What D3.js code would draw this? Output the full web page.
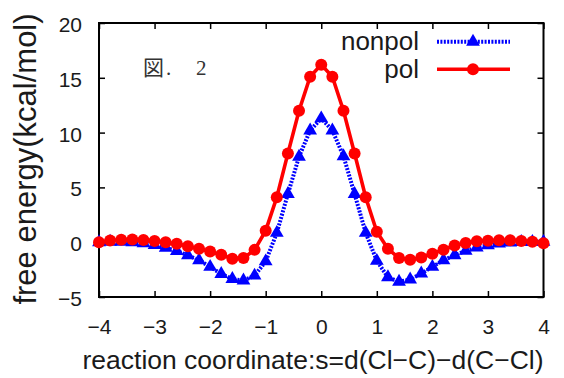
<!DOCTYPE html>
<html>
<head>
<meta charset="utf-8">
<script src="https://cdn.jsdelivr.net/npm/d3@7"></script>
<style>
  body { margin: 0; background: #fff; }
  svg { display: block; }
</style>
</head>
<body>
<svg id="chart"></svg>
<script>
// reaction coordinate s, step 0.2
const sValues = [
  -4.0, -3.8, -3.6, -3.4, -3.2, -3.0, -2.8, -2.6, -2.4, -2.2, -2.0,
  -1.8, -1.6, -1.4, -1.2, -1.0, -0.8, -0.6, -0.4, -0.2, 0.0,
  0.2, 0.4, 0.6, 0.8, 1.0, 1.2, 1.4, 1.6, 1.8, 2.0,
  2.2, 2.4, 2.6, 2.8, 3.0, 3.2, 3.4, 3.6, 3.8, 4.0
]

const nonpolEnergy = [
  0.0, 0.05, 0.05, 0.0, -0.1, -0.25, -0.5, -0.8, -1.2, -1.65, -2.25,
  -2.9, -3.35, -3.5, -3.05, -1.75, 0.85, 4.4, 7.8, 10.2, 11.3,
  10.2, 7.85, 4.4, 0.85, -1.7, -3.2, -3.6, -3.4, -2.86, -2.25,
  -1.64, -1.19, -0.79, -0.49, -0.27, -0.12, -0.03, 0.02, 0.03, 0.03
]

const polEnergy = [
  0.0, 0.15, 0.22, 0.25, 0.2, 0.12, 0.0, -0.15, -0.38, -0.6, -0.85,
  -1.15, -1.5, -1.45, -0.7, 1.05, 4.1, 8.1, 12.0, 15.1, 16.2,
  15.1, 12.0, 8.1, 4.1, 0.95, -0.6, -1.45, -1.6, -1.4, -1.05,
  -0.68, -0.3, -0.08, 0.08, 0.14, 0.18, 0.18, 0.12, 0.04, -0.1
]

const seriesNames = ['nonpol', 'pol']
const xTicks = [-4, -3, -2, -1, 0, 1, 2, 3, 4]
const yTicks = [-5, 0, 5, 10, 15, 20]

const xLabel = 'reaction coordinate:s=d(Cl\u2212C)\u2212d(C\u2212Cl)'
const yLabel = 'free energy(kcal/mol)'

const width = 564
const height = 378
const plot = { left: 99, right: 543.5, top: 23, bottom: 297 }

const svg = d3.select('#chart')
  .attr('width', width)
  .attr('height', height)
  .style('font-family', '"Liberation Sans", Arial, sans-serif')

svg.append('rect')
  .attr('width', width)
  .attr('height', height)
  .attr('fill', '#fff')

const x = d3.scaleLinear().domain([-4, 4]).range([plot.left, plot.right])
const y = d3.scaleLinear().domain([-5, 20]).range([plot.bottom, plot.top])

const fmt = d3.format('d')

// axes, ticks pointing inward on all four sides
const styleAxis = (g) => {
  g.select('.domain').remove()
  g.selectAll('.tick line').attr('stroke', '#000').attr('stroke-width', 1.5)
  g.selectAll('.tick text').attr('fill', '#1a1a1a').attr('font-size', '21px')
}

svg.append('g')
  .attr('transform', `translate(0,${plot.bottom})`)
  .call(d3.axisBottom(x).tickValues(xTicks).tickFormat(fmt).tickSizeInner(-6).tickSizeOuter(0).tickPadding(22))
  .call(styleAxis)
  .attr('font-family', null)

svg.append('g')
  .attr('transform', `translate(0,${plot.top})`)
  .call(d3.axisTop(x).tickValues(xTicks).tickFormat('').tickSizeInner(-6).tickSizeOuter(0))
  .call(styleAxis)

svg.append('g')
  .attr('transform', `translate(${plot.left},0)`)
  .call(d3.axisLeft(y).tickValues(yTicks).tickFormat(fmt).tickSizeInner(-6).tickSizeOuter(0).tickPadding(17))
  .call(styleAxis)
  .attr('font-family', null)
  .selectAll('.tick text')
  .attr('dy', '0.4em')

svg.append('g')
  .attr('transform', `translate(${plot.right},0)`)
  .call(d3.axisRight(y).tickValues(yTicks).tickFormat('').tickSizeInner(-6).tickSizeOuter(0))
  .call(styleAxis)

// plot frame
svg.append('rect')
  .attr('x', plot.left)
  .attr('y', plot.top)
  .attr('width', plot.right - plot.left)
  .attr('height', plot.bottom - plot.top)
  .attr('fill', 'none')
  .attr('stroke', '#000')
  .attr('stroke-width', 2)

// axis labels
svg.append('text')
  .attr('transform', 'translate(35.5,159) rotate(-90)')
  .attr('text-anchor', 'middle')
  .attr('font-size', '31px')
  .attr('fill', '#1a1a1a')
  .text(yLabel)

svg.append('text')
  .attr('x', 313)
  .attr('y', 369)
  .attr('text-anchor', 'middle')
  .attr('font-size', '26.5px')
  .attr('fill', '#1a1a1a')
  .text(xLabel)

// figure tag
const tag = svg.append('text')
  .attr('y', 75)
  .attr('font-size', '21px')
  .attr('fill', '#333')
tag.append('tspan').attr('x', 143).style('font-family', '"Noto Sans CJK JP"').text('図')
tag.append('tspan').attr('x', 166).style('font-family', '"Liberation Serif", serif').text('.')
tag.append('tspan').attr('x', 196).style('font-family', '"Liberation Serif", serif').text('2')

const series = [
  { name: seriesNames[0], values: nonpolEnergy, color: '#0000ff', dash: '2,1.4', marker: 'triangle' },
  { name: seriesNames[1], values: polEnergy, color: '#ff0000', dash: null, marker: 'circle' }
]

const line = d3.line()
  .x((d) => x(d.s))
  .y((d) => y(d.v))

const triangle = d3.symbol().type(d3.symbolTriangle).size(82)

const drawMarker = (sel, s) => {
  if (s.marker === 'circle') {
    sel.append('circle').attr('r', 6).attr('fill', s.color)
  } else {
    sel.append('path').attr('d', triangle).attr('fill', s.color)
  }
}

series.forEach((s) => {
  const pts = sValues.map((v, i) => ({ s: v, v: s.values[i] }))

  svg.append('path')
    .datum(pts)
    .attr('d', line)
    .attr('fill', 'none')
    .attr('stroke', s.color)
    .attr('stroke-width', s.dash ? 4 : 3.6)
    .attr('stroke-dasharray', s.dash)

  svg.selectAll(null)
    .data(pts)
    .enter()
    .append('g')
    .attr('transform', (d) => `translate(${x(d.s)},${y(d.v)})`)
    .each(function () { drawMarker(d3.select(this), s) })
})

// legend
const legend = svg.append('g')
series.forEach((s, i) => {
  const ly = 41.7 + i * 27.6
  legend.append('text')
    .attr('x', 419)
    .attr('y', ly + 8.5)
    .attr('text-anchor', 'end')
    .attr('font-size', '26px')
    .attr('fill', '#1a1a1a')
    .text(s.name)
  legend.append('line')
    .attr('x1', 437)
    .attr('x2', 510)
    .attr('y1', ly)
    .attr('y2', ly)
    .attr('stroke', s.color)
    .attr('stroke-width', s.dash ? 4 : 3.6)
    .attr('stroke-dasharray', s.dash)
  legend.append('g')
    .attr('transform', `translate(473,${ly})`)
    .call((g) => drawMarker(g, s))
})
</script>
</body>
</html>
